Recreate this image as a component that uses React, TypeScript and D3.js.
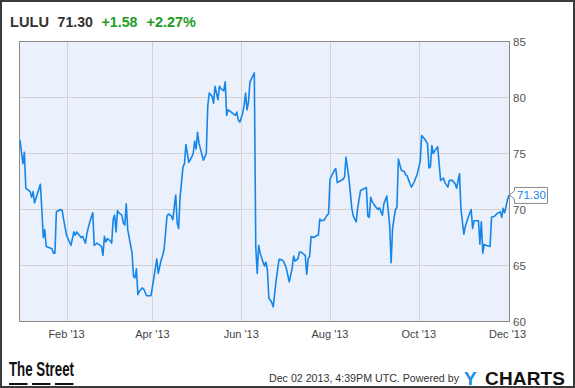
import React from "react";
import * as d3 from "d3";

const dates: string[] = [
  "2012-12-31","2013-01-02","2013-01-03","2013-01-04","2013-01-07","2013-01-08","2013-01-09","2013-01-10","2013-01-11","2013-01-14",
  "2013-01-15","2013-01-16","2013-01-17","2013-01-18","2013-01-22","2013-01-23","2013-01-24","2013-01-25","2013-01-28","2013-01-29",
  "2013-01-30","2013-02-01","2013-02-04","2013-02-06","2013-02-07","2013-02-08","2013-02-11","2013-02-12","2013-02-13","2013-02-14",
  "2013-02-15","2013-02-17","2013-02-19","2013-02-20","2013-02-22","2013-02-24","2013-02-25","2013-02-26","2013-02-27","2013-02-28",
  "2013-03-01","2013-03-03","2013-03-04","2013-03-05","2013-03-06","2013-03-07","2013-03-08","2013-03-09","2013-03-11","2013-03-12",
  "2013-03-13","2013-03-14","2013-03-15","2013-03-18","2013-03-19","2013-03-20","2013-03-21","2013-03-22","2013-03-23","2013-03-25",
  "2013-03-26","2013-03-28","2013-03-31","2013-04-02","2013-04-04","2013-04-05","2013-04-07","2013-04-08","2013-04-09","2013-04-11",
  "2013-04-12","2013-04-14","2013-04-15","2013-04-17","2013-04-18","2013-04-19","2013-04-20","2013-04-22","2013-04-23","2013-04-24",
  "2013-04-26","2013-04-28","2013-04-29","2013-04-30","2013-05-01","2013-05-02","2013-05-03","2013-05-06","2013-05-07","2013-05-08",
  "2013-05-09","2013-05-10","2013-05-12","2013-05-13","2013-05-14","2013-05-15","2013-05-16","2013-05-17","2013-05-18","2013-05-20",
  "2013-05-21","2013-05-22","2013-05-23","2013-05-24","2013-05-26","2013-05-28","2013-05-29","2013-05-30","2013-05-31","2013-06-02",
  "2013-06-03","2013-06-04","2013-06-05","2013-06-06","2013-06-07","2013-06-09","2013-06-10","2013-06-11","2013-06-12","2013-06-13",
  "2013-06-14","2013-06-16","2013-06-17","2013-06-18","2013-06-19","2013-06-20","2013-06-22","2013-06-23","2013-06-25","2013-06-27",
  "2013-06-29","2013-06-30","2013-07-02","2013-07-04","2013-07-06","2013-07-07","2013-07-08","2013-07-10","2013-07-11","2013-07-12",
  "2013-07-13","2013-07-15","2013-07-16","2013-07-17","2013-07-18","2013-07-19","2013-07-21","2013-07-23","2013-07-24","2013-07-25",
  "2013-07-26","2013-07-28","2013-07-30","2013-07-31","2013-08-01","2013-08-04","2013-08-05","2013-08-06","2013-08-08","2013-08-10",
  "2013-08-11","2013-08-12","2013-08-14","2013-08-16","2013-08-17","2013-08-19","2013-08-20","2013-08-22","2013-08-25","2013-08-26",
  "2013-08-27","2013-08-28","2013-08-29","2013-08-30","2013-09-01","2013-09-03","2013-09-04","2013-09-06","2013-09-07","2013-09-09",
  "2013-09-10","2013-09-11","2013-09-12","2013-09-13","2013-09-14","2013-09-15","2013-09-16","2013-09-17","2013-09-19","2013-09-21",
  "2013-09-22","2013-09-23","2013-09-25","2013-09-26","2013-09-28","2013-09-30","2013-10-02","2013-10-03","2013-10-05","2013-10-07",
  "2013-10-08","2013-10-09","2013-10-10","2013-10-11","2013-10-12","2013-10-14","2013-10-15","2013-10-16","2013-10-18","2013-10-19",
  "2013-10-21","2013-10-22","2013-10-23","2013-10-24","2013-10-26","2013-10-27","2013-10-29","2013-10-30","2013-11-01","2013-11-02",
  "2013-11-04","2013-11-06","2013-11-07","2013-11-08","2013-11-10","2013-11-11","2013-11-12","2013-11-13","2013-11-14","2013-11-15",
  "2013-11-16","2013-11-19","2013-11-20","2013-11-22","2013-11-24","2013-11-26","2013-11-27","2013-11-28","2013-11-29","2013-12-01",
  "2013-12-02"
];

const prices: number[] = [
  76.2,74.1,75.1,71.9,71.6,71.1,71.6,70.6,71.0,72.25,
  70.0,67.5,68.2,66.7,66.5,66.1,66.1,69.8,70.0,69.9,
  69.1,67.7,66.8,68.0,67.7,68.0,67.5,67.6,67.3,67.0,
  67.9,68.9,69.7,66.8,67.0,66.8,66.7,65.9,67.6,67.1,
  67.4,67.2,67.0,69.1,69.5,68.0,69.9,69.7,69.5,68.8,
  68.6,70.5,68.2,66.1,64.0,63.9,64.7,62.4,62.7,63.0,
  62.9,62.3,62.3,63.9,65.6,64.3,65.5,65.9,66.4,69.4,
  69.6,69.4,69.1,71.3,68.8,68.3,71.1,73.8,74.1,75.8,
  74.2,74.7,75.0,76.1,75.4,76.9,75.9,74.4,74.7,75.0,
  79.2,80.4,80.1,79.5,81.0,80.4,79.8,81.0,80.8,80.6,
  81.4,78.4,78.9,78.8,78.6,78.4,78.7,78.0,77.8,78.6,
  79.3,80.4,78.9,79.6,81.4,81.9,82.2,66.7,64.3,66.8,
  66.1,65.3,64.95,65.3,64.6,62.1,61.7,61.3,63.7,65.55,
  65.5,65.4,64.75,63.55,64.75,65.85,65.4,65.6,66.2,66.2,
  66.1,65.9,64.2,65.6,65.8,67.6,67.5,67.7,67.7,69.15,
  69.0,69.05,69.5,69.6,72.7,73.5,73.65,72.4,72.55,72.7,
  72.9,74.65,72.8,70.1,69.4,68.9,70.1,71.7,71.9,71.95,
  69.4,69.3,71.1,70.7,70.3,70.0,70.15,69.5,70.5,71.2,
  69.9,68.6,65.25,68.3,69.2,70.0,70.2,74.5,73.5,73.4,
  73.1,73.0,72.3,72.0,72.5,73.2,74.3,76.6,76.3,75.9,
  73.7,73.8,75.7,75.0,75.25,75.6,74.1,72.6,72.8,72.4,
  72.0,72.6,72.6,72.6,72.3,71.9,73.2,70.0,67.8,68.5,
  69.3,70.0,68.3,69.0,69.0,69.0,66.9,68.9,66.1,66.9,
  66.8,66.7,69.3,69.4,69.65,69.8,69.3,70.1,69.7,70.9,
  71.3
];

const yTicks: number[] = [60, 65, 70, 75, 80, 85];
const xTickDates: string[] = ["2013-02-01", "2013-04-01", "2013-06-01", "2013-08-01", "2013-10-01", "2013-12-01"];
const xTickLabels: string[] = ["Feb '13", "Apr '13", "Jun '13", "Aug '13", "Oct '13", "Dec '13"];

const ticker = "LULU";
const lastPrice = "71.30";
const change = "+1.58";
const changePct = "+2.27%";
const timestamp = "Dec 02 2013, 4:39PM UTC.  Powered by";

const parse = d3.timeParse("%Y-%m-%d");

export default function App() {
  const W = 575, H = 388;
  const left = 19.5, right = 509.5, top = 41.5, bottom = 321.5;
  const x = d3.scaleTime()
    .domain([parse("2012-12-31") as Date, parse("2013-12-02") as Date])
    .range([20, 509]);
  const y = d3.scaleLinear().domain([60, 85]).range([bottom, top]);
  const data = dates.map((d, i) => ({ date: parse(d) as Date, v: prices[i] }));
  const line = d3.line<{ date: Date; v: number }>()
    .x(d => x(d.date))
    .y(d => y(d.v));
  const font = "'Liberation Sans', Arial, sans-serif";
  const lastY = y(prices[prices.length - 1]);
  const tipX = right;
  const hs = 15;

  return (
    <svg width={W} height={H} style={{ position: "absolute", left: 0, top: 0, background: "#fff" }} fontFamily={font}>
      <rect x={1} y={1} width={W - 2} height={H - 2} fill="#fff" stroke="#3a3a3a" strokeWidth={2} />
      {/* header */}
      <text x={10} y={27} fontSize={hs} fontWeight="bold" fill="#333" textLength={39} lengthAdjust="spacingAndGlyphs">{ticker}</text>
      <text x={57.5} y={27} fontSize={hs} fontWeight="bold" fill="#333" textLength={35.5} lengthAdjust="spacingAndGlyphs">{lastPrice}</text>
      <text x={101.5} y={27} fontSize={hs} fontWeight="bold" fill="#1f9c1f" textLength={36} lengthAdjust="spacingAndGlyphs">{change}</text>
      <text x={146.5} y={27} fontSize={hs} fontWeight="bold" fill="#1f9c1f" textLength={49.5} lengthAdjust="spacingAndGlyphs">{changePct}</text>

      {/* plot area */}
      <rect x={left} y={top} width={right - left} height={bottom - top} fill="#eaf0fc" />
      {yTicks.filter(t => t > 60 && t < 85).map(t => (
        <line key={"gy" + t} x1={left} x2={right} y1={y(t)} y2={y(t)} stroke="#d3d3d3" strokeWidth={1} />
      ))}
      {xTickDates.slice(0, 5).map(d => {
        const px = Math.round(x(parse(d) as Date)) + 0.5;
        return <line key={"gx" + d} x1={px} x2={px} y1={top} y2={bottom} stroke="#d3d3d3" strokeWidth={1} />;
      })}
      <rect x={left} y={top} width={right - left} height={bottom - top} fill="none" stroke="#8a8a8a" strokeWidth={1} />

      <path d={line(data) || ""} fill="none" stroke="#1586e8" strokeWidth={1.6} strokeLinejoin="round" />

      {/* y axis labels */}
      {yTicks.map(t => (
        <text key={"yl" + t} x={513} y={y(t) + 4} fontSize={11.5} fill="#555">{t}</text>
      ))}
      {/* x axis labels */}
      {xTickDates.map((d, i) => (
        <text key={"xl" + d} x={x(parse(d) as Date)} y={338} fontSize={11} fill="#444" textAnchor="middle">{xTickLabels[i]}</text>
      ))}

      {/* last value callout */}
      <path
        d={`M${tipX + 5},${lastY - 7.5} H${tipX + 38} V${lastY + 8.5} H${tipX + 5} V${lastY + 4} L${tipX},${lastY} L${tipX + 5},${lastY - 4} Z`}
        fill="#fff" stroke="#8a8a8a" strokeWidth={1}
      />
      <text x={tipX + 7.5} y={lastY + 4.5} fontSize={11.5} fill="#1586e8">{lastPrice}</text>

      {/* footer */}
      <text x={9} y={376} fontSize={20} fontWeight="bold" fill="#111" textLength={65} lengthAdjust="spacingAndGlyphs">The Street</text>
      <line x1={9} x2={27.5} y1={384} y2={384} stroke="#111" strokeWidth={2} />
      <line x1={32} x2={50.5} y1={384} y2={384} stroke="#111" strokeWidth={2} />
      <line x1={55} x2={73.5} y1={384} y2={384} stroke="#111" strokeWidth={2} />

      <text x={269} y={382} fontSize={11} fill="#333" textLength={190} lengthAdjust="spacingAndGlyphs">{timestamp}</text>
      <text x={464} y={385} fontSize={19} fontWeight="bold" fill="#1a8fe3">Y</text>
      <text x={485} y={385} fontSize={19} fontWeight="bold" fill="#111" textLength={80} lengthAdjust="spacing">CHARTS</text>
    </svg>
  );
}
